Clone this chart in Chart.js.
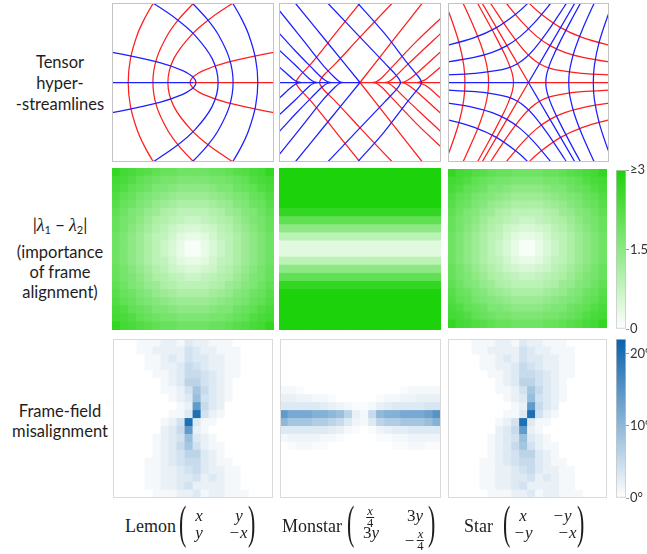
<!DOCTYPE html>
<html>
<head>
<meta charset="utf-8">
<script src="https://cdn.jsdelivr.net/npm/chart.js"></script>
<style>
  html, body { margin: 0; background: #fff; }
  #fig { position: relative; width: 647px; height: 554px; overflow: hidden; color: #1e1e1e; }
  #fig canvas { position: absolute; }
  .framed { outline: 1.5px solid #c3c3c3; outline-offset: -1.5px; }
  .framed.light { outline-color: #dadada; }
  .lab { position: absolute; left: 0; width: 120px; text-align: center; font: 16.5px Lato, sans-serif; line-height: 20px; white-space: nowrap; }
  .lab i { font-family: 'Liberation Serif', serif; font-size: 18px; }
  .lab sub { font-size: 11px; vertical-align: -3px; line-height: 0; }
  .name { position: absolute; font: 18px 'Liberation Serif', serif; line-height: 18px; white-space: nowrap; }
  .paren { position: absolute; font: 22px 'Liberation Serif', serif; line-height: 22px; transform: scaleY(2.1); }
  .ent { position: absolute; font: italic 17px 'Liberation Serif', serif; line-height: 17px; transform: translateX(-50%); white-space: nowrap; }
  .ent .up { font-style: normal; }
  .ent.fr { display: flex; align-items: center; }
  .frac { display: inline-flex; flex-direction: column; align-items: center; font-size: 12.5px; line-height: 9px; }
  .frac span:first-child { border-bottom: 1px solid #1e1e1e; padding: 0 1px 1px; }
  .frac span:last-child { font-style: normal; padding-top: 1px; }
</style>
</head>
<body>
<div id="fig">
  <div class="lab" style="top:51.6px">Tensor</div>
  <div class="lab" style="top:72.6px">hyper-</div>
  <div class="lab" style="top:93.6px">-streamlines</div>

  <div class="lab" style="top:214.6px">|<i>λ</i><sub>1</sub> − <i>λ</i><sub>2</sub>|</div>
  <div class="lab" style="top:241.6px">(importance</div>
  <div class="lab" style="top:261.6px">of frame</div>
  <div class="lab" style="top:281.6px">alignment)</div>

  <div class="lab" style="top:400.6px">Frame-field</div>
  <div class="lab" style="top:420.6px">misalignment</div>

  <canvas id="lemonLines" class="framed" width="162" height="159" style="left:112px;top:3px"></canvas>
  <canvas id="monstarLines" class="framed" width="162" height="159" style="left:279px;top:3px"></canvas>
  <canvas id="starLines" class="framed" width="161" height="159" style="left:448px;top:3px"></canvas>

  <canvas id="lemonGapMap" width="162" height="162" style="left:112px;top:168px"></canvas>
  <canvas id="monstarGapMap" width="162" height="162" style="left:279px;top:168px"></canvas>
  <canvas id="starGapMap" width="159" height="159" style="left:448px;top:169px"></canvas>
  <canvas id="gapBar" width="40" height="179" style="left:616px;top:160px"></canvas>

  <canvas id="lemonMisMap" class="framed light" width="160" height="159" style="left:113px;top:339px"></canvas>
  <canvas id="monstarMisMap" class="framed light" width="161" height="159" style="left:280px;top:339px"></canvas>
  <canvas id="starMisMap" class="framed light" width="159" height="159" style="left:448px;top:339px"></canvas>
  <canvas id="misBar" width="40" height="179" style="left:616px;top:329px"></canvas>

  <div class="name" style="left:125px;top:516.6px">Lemon</div>
  <div class="paren" style="left:179px;top:511.8px">(</div>
  <div class="ent" style="left:199px;top:506.8px">x</div>
  <div class="ent" style="left:239px;top:506.8px">y</div>
  <div class="ent" style="left:199px;top:524.3px">y</div>
  <div class="ent" style="left:238px;top:524.3px">−x</div>
  <div class="paren" style="left:248px;top:511.8px">)</div>

  <div class="name" style="left:282px;top:516.6px">Monstar</div>
  <div class="paren" style="left:347px;top:511.8px">(</div>
  <div class="ent fr" style="left:370px;top:507px"><span class="frac"><span>x</span><span>4</span></span></div>
  <div class="ent" style="left:415px;top:506.8px"><span class="up">3</span>y</div>
  <div class="ent" style="left:371px;top:524.3px"><span class="up">3</span>y</div>
  <div class="ent fr" style="left:414px;top:529.5px">−&#8202;<span class="frac"><span>x</span><span>4</span></span></div>
  <div class="paren" style="left:428px;top:511.8px">)</div>

  <div class="name" style="left:464px;top:516.6px">Star</div>
  <div class="paren" style="left:503px;top:511.8px">(</div>
  <div class="ent" style="left:523px;top:506.8px">x</div>
  <div class="ent" style="left:562px;top:506.8px">−y</div>
  <div class="ent" style="left:523px;top:524.3px">−y</div>
  <div class="ent" style="left:567px;top:524.3px">−x</div>
  <div class="paren" style="left:577px;top:511.8px">)</div>
</div>

<script>
// ---- hyper-streamlines, panel units (-1..1), read off the top row ----
// "arcs" cross the horizontal axis (lower half is the mirror image, joined),
// "legs" end on the axis or never reach it (mirrored as a separate line)
const lemonRedArcs = [
  [[-0.8, 0], [-0.772, 0.3], [-0.688, 0.6], [-0.6, 0.8], [-0.488, 1], [-0.42, 1.1]],
  [[-0.495, 0], [-0.449, 0.3], [-0.313, 0.6], [-0.172, 0.8], [0.01, 1], [0.116, 1.1]],
  [[-0.31, 0], [-0.237, 0.3], [-0.019, 0.6], [0.206, 0.8], [0.497, 1], [0.666, 1.1]],
  [[-0.035, 0], [-0.029, 0.03], [0.011, 0.08], [0.126, 0.15], [0.411, 0.25], [0.996, 0.38], [1.225, 0.42]]
];
const lemonBlueArcs = [
  [[0.8, 0], [0.772, 0.3], [0.688, 0.6], [0.6, 0.8], [0.488, 1], [0.42, 1.1]],
  [[0.495, 0], [0.449, 0.3], [0.313, 0.6], [0.172, 0.8], [-0.01, 1], [-0.116, 1.1]],
  [[0.31, 0], [0.237, 0.3], [0.019, 0.6], [-0.206, 0.8], [-0.497, 1], [-0.666, 1.1]],
  [[0.035, 0], [0.029, 0.03], [-0.011, 0.08], [-0.126, 0.15], [-0.411, 0.25], [-0.996, 0.38], [-1.225, 0.42]]
];
const lemonRedAxis = [[0, 0], [1.05, 0]];
const lemonBlueAxis = [[-1.05, 0], [0, 0]];

const monstarRedArcs = [
  [[-0.79, 0], [-0.775, 0.04], [-0.73, 0.1], [-0.6, 0.24], [-0.3, 0.62], [0, 1], [0.08, 1.1]],
  [[-0.5, 0], [-0.485, 0.04], [-0.44, 0.1], [-0.3, 0.24], [0, 0.57], [0.4, 1], [0.5, 1.1]]
];
const monstarRedLegs = [
  [[0, 0], [0.4, 0.52], [0.77, 1], [0.85, 1.1]],
  [[0.15, 0], [0.2, 0.01], [0.27, 0.06], [0.4, 0.2], [0.7, 0.52], [1, 0.81], [1.1, 0.9]],
  [[0.3, 0], [0.35, 0.01], [0.42, 0.06], [0.55, 0.19], [0.8, 0.43], [1, 0.62], [1.1, 0.72]],
  [[0.5, 0], [0.55, 0.01], [0.62, 0.05], [0.75, 0.16], [1, 0.39], [1.1, 0.48]],
  [[0.7, 0], [0.75, 0.01], [0.82, 0.045], [1, 0.2], [1.1, 0.29]]
];
const monstarBlueArcs = [
  [[0.5, 0], [0.485, 0.04], [0.44, 0.1], [0.3, 0.25], [0, 0.57], [-0.4, 1], [-0.5, 1.1]],
  [[0.76, 0], [0.745, 0.04], [0.7, 0.1], [0.58, 0.25], [0.3, 0.62], [-0.03, 1], [-0.12, 1.1]]
];
const monstarBlueLegs = [
  [[0, 0], [-0.4, 0.5], [-0.8, 1], [-0.88, 1.1]],
  [[-0.21, 0], [-0.25, 0.01], [-0.31, 0.06], [-0.45, 0.21], [-0.7, 0.53], [-1, 0.91], [-1.08, 1]],
  [[-0.35, 0], [-0.4, 0.01], [-0.46, 0.05], [-0.6, 0.19], [-0.8, 0.4], [-1, 0.62], [-1.1, 0.72]],
  [[-0.52, 0], [-0.57, 0.01], [-0.63, 0.05], [-0.8, 0.22], [-1, 0.41], [-1.1, 0.5]],
  [[-0.72, 0], [-0.77, 0.01], [-0.83, 0.045], [-1, 0.2], [-1.1, 0.29]]
];
const monstarRedAxis = [[0, 0], [1.05, 0]];
const monstarBlueAxis = [[-1.05, 0], [0, 0]];

const starRedArcs = [
  [[-0.186, 0], [-0.203, 0.117], [-0.25, 0.25], [-0.294, 0.351], [-0.415, 0.593], [-0.506, 0.764], [-0.705, 1.13]],
  [[-0.496, 0], [-0.505, 0.135], [-0.541, 0.312], [-0.603, 0.506], [-0.665, 0.665], [-0.785, 0.936], [-0.87, 1.113]],
  [[-0.79, 0], [-0.804, 0.215], [-0.862, 0.497], [-0.961, 0.806], [-1.06, 1.06]]
];
const starRedLegs = [
  [[1.19, 0.433], [1.006, 0.469], [0.673, 0.564], [0.399, 0.69], [0.152, 0.865], [0, 1.005], [-0.22, 1.247]],
  [[1.299, 0.229], [0.981, 0.263], [0.676, 0.315], [0.451, 0.379], [0.268, 0.464], [0.102, 0.58], [-0.065, 0.743], [-0.263, 0.981], [-0.362, 1.115]],
  [[1.3, 0.08], [1.054, 0.092], [0.66, 0.116], [0.406, 0.148], [0.26, 0.182], [0.136, 0.236], [0.028, 0.317], [-0.075, 0.425], [-0.229, 0.63], [-0.447, 0.959], [-0.538, 1.103]],
  [[0, 0], [-0.6, 1.04]]
];
const starBlueArcs = [
  [[0.215, 0], [0.222, 0.081], [0.245, 0.172], [0.288, 0.288], [0.377, 0.483], [0.541, 0.803], [0.711, 1.117]],
  [[0.5, 0], [0.504, 0.089], [0.517, 0.188], [0.57, 0.399], [0.671, 0.671], [0.791, 0.943], [0.853, 1.072]],
  [[0.805, 0], [0.819, 0.219], [0.878, 0.507], [0.979, 0.821], [1.08, 1.08]]
];
const starBlueLegs = [
  [[-1.19, 0.433], [-1.006, 0.469], [-0.673, 0.564], [-0.399, 0.69], [-0.152, 0.865], [0, 1.005], [0.22, 1.247]],
  [[-1.299, 0.229], [-0.981, 0.263], [-0.676, 0.315], [-0.451, 0.379], [-0.268, 0.464], [-0.102, 0.58], [0.065, 0.743], [0.263, 0.981], [0.362, 1.115]],
  [[-1.3, 0.08], [-1.054, 0.092], [-0.66, 0.116], [-0.406, 0.148], [-0.26, 0.182], [-0.136, 0.236], [-0.028, 0.317], [0.075, 0.425], [0.229, 0.63], [0.447, 0.959], [0.538, 1.103]],
  [[0, 0], [0.6, 1.04]]
];
const starRedAxis = [[0, 0], [1.05, 0]];
const starBlueAxis = [[-1.05, 0], [0, 0]];

// ---- |lambda1 - lambda2| on a 20x20 grid, top row first ----
const lemonGap = [
  [2.7,2.5,2.4,2.3,2.2,2.1,2.0,2.0,1.9,1.9,1.9,1.9,2.0,2.0,2.1,2.2,2.3,2.4,2.5,2.7],
  [2.5,2.4,2.3,2.1,2.0,1.9,1.8,1.8,1.7,1.7,1.7,1.7,1.8,1.8,1.9,2.0,2.1,2.3,2.4,2.5],
  [2.4,2.3,2.1,2.0,1.9,1.7,1.7,1.6,1.5,1.5,1.5,1.5,1.6,1.7,1.7,1.9,2.0,2.1,2.3,2.4],
  [2.3,2.1,2.0,1.8,1.7,1.6,1.5,1.4,1.3,1.3,1.3,1.3,1.4,1.5,1.6,1.7,1.8,2.0,2.1,2.3],
  [2.2,2.0,1.9,1.7,1.6,1.4,1.3,1.2,1.1,1.1,1.1,1.1,1.2,1.3,1.4,1.6,1.7,1.9,2.0,2.2],
  [2.1,1.9,1.7,1.6,1.4,1.3,1.1,1.0,0.9,0.9,0.9,0.9,1.0,1.1,1.3,1.4,1.6,1.7,1.9,2.1],
  [2.0,1.8,1.7,1.5,1.3,1.1,1.0,0.9,0.8,0.7,0.7,0.8,0.9,1.0,1.1,1.3,1.5,1.7,1.8,2.0],
  [2.0,1.8,1.6,1.4,1.2,1.0,0.9,0.7,0.6,0.5,0.5,0.6,0.7,0.9,1.0,1.2,1.4,1.6,1.8,2.0],
  [1.9,1.7,1.5,1.3,1.1,0.9,0.8,0.6,0.4,0.3,0.3,0.4,0.6,0.8,0.9,1.1,1.3,1.5,1.7,1.9],
  [1.9,1.7,1.5,1.3,1.1,0.9,0.7,0.5,0.3,0.1,0.1,0.3,0.5,0.7,0.9,1.1,1.3,1.5,1.7,1.9],
  [1.9,1.7,1.5,1.3,1.1,0.9,0.7,0.5,0.3,0.1,0.1,0.3,0.5,0.7,0.9,1.1,1.3,1.5,1.7,1.9],
  [1.9,1.7,1.5,1.3,1.1,0.9,0.8,0.6,0.4,0.3,0.3,0.4,0.6,0.8,0.9,1.1,1.3,1.5,1.7,1.9],
  [2.0,1.8,1.6,1.4,1.2,1.0,0.9,0.7,0.6,0.5,0.5,0.6,0.7,0.9,1.0,1.2,1.4,1.6,1.8,2.0],
  [2.0,1.8,1.7,1.5,1.3,1.1,1.0,0.9,0.8,0.7,0.7,0.8,0.9,1.0,1.1,1.3,1.5,1.7,1.8,2.0],
  [2.1,1.9,1.7,1.6,1.4,1.3,1.1,1.0,0.9,0.9,0.9,0.9,1.0,1.1,1.3,1.4,1.6,1.7,1.9,2.1],
  [2.2,2.0,1.9,1.7,1.6,1.4,1.3,1.2,1.1,1.1,1.1,1.1,1.2,1.3,1.4,1.6,1.7,1.9,2.0,2.2],
  [2.3,2.1,2.0,1.8,1.7,1.6,1.5,1.4,1.3,1.3,1.3,1.3,1.4,1.5,1.6,1.7,1.8,2.0,2.1,2.3],
  [2.4,2.3,2.1,2.0,1.9,1.7,1.7,1.6,1.5,1.5,1.5,1.5,1.6,1.7,1.7,1.9,2.0,2.1,2.3,2.4],
  [2.5,2.4,2.3,2.1,2.0,1.9,1.8,1.8,1.7,1.7,1.7,1.7,1.8,1.8,1.9,2.0,2.1,2.3,2.4,2.5],
  [2.7,2.5,2.4,2.3,2.2,2.1,2.0,2.0,1.9,1.9,1.9,1.9,2.0,2.0,2.1,2.2,2.3,2.4,2.5,2.7]
];
const starGap = lemonGap; // the star map reads the same as the lemon one
// monstar varies by row only
const monstarGapRows = [3, 3, 3, 3, 3, 2.7, 2.1, 1.5, 0.9, 0.4, 0.4, 0.9, 1.5, 2.1, 2.7, 3, 3, 3, 3, 3];
const gapTicks = [0, 1.5, 3];
const gapTickLabels = ['0', '1.5', '≥3'];
const gapMax = 3;

// ---- frame-field misalignment in degrees, 20x20, top row first ----
const lemonMisalign = [
  [0,0,0,1,1,1,2,2,1,3,2,2,1,1,1,0,0,0,0,0],
  [0,0,0,1,1,2,2,2,2,4,3,2,2,1,1,1,0,0,0,0],
  [0,0,0,0,1,1,2,3,2,4,3,3,2,2,1,1,0,0,0,0],
  [0,0,0,0,1,1,2,2,3,5,4,3,2,2,1,1,0,0,0,0],
  [0,0,0,0,0,1,1,2,3,5,5,4,3,2,1,1,0,0,0,0],
  [0,0,0,0,0,0,1,2,3,6,6,4,3,2,1,0,0,0,0,0],
  [0,0,0,0,0,0,1,1,2,4,8,5,3,2,1,0,0,0,0,0],
  [0,0,0,0,0,0,0,1,2,3,9,4,3,2,1,0,0,0,0,0],
  [0,0,0,0,0,0,0,0,1,2,14,5,3,2,0,0,0,0,0,0],
  [0,0,0,0,0,0,0,1,1,3,20,4,2,1,0,0,0,0,0,0],
  [0,0,0,0,0,0,1,2,4,20,3,1,1,0,0,0,0,0,0,0],
  [0,0,0,0,0,0,2,3,5,14,2,1,0,0,0,0,0,0,0,0],
  [0,0,0,0,0,1,2,3,4,9,3,2,1,0,0,0,0,0,0,0],
  [0,0,0,0,0,1,2,3,5,8,4,2,1,1,0,0,0,0,0,0],
  [0,0,0,0,0,1,2,3,4,6,6,3,2,1,0,0,0,0,0,0],
  [0,0,0,0,1,1,2,3,4,5,5,3,2,1,1,0,0,0,0,0],
  [0,0,0,0,1,1,2,2,3,4,5,3,2,2,1,1,0,0,0,0],
  [0,0,0,0,1,1,2,2,3,3,4,2,3,2,1,1,0,0,0,0],
  [0,0,0,0,1,1,2,2,3,4,2,2,2,2,1,1,0,0,0,0],
  [0,0,0,0,0,1,1,1,2,2,3,1,2,2,1,1,1,0,0,0]
];
const starMisalign = lemonMisalign; // same pattern in the picture
const monstarMisalign = [
  [0,0,0,0,0,0,0,0,0,0,0,0,0,0,0,0,0,0,0,0],
  [0,0,0,0,0,0,0,0,0,0,0,0,0,0,0,0,0,0,0,0],
  [0,0,0,0,0,0,0,0,0,0,0,0,0,0,0,0,0,0,0,0],
  [0,0,0,0,0,0,0,0,0,0,0,0,0,0,0,0,0,0,0,0],
  [0,0,0,0,0,0,0,0,0,0,0,0,0,0,0,0,0,0,0,0],
  [0,0,0,0,0,0,0,0,0,0,0,0,0,0,0,0,0,0,0,0],
  [1,1,0.5,0,0,0,0,0,0,0,0,0,0,0,0,0.5,1,1,1,1],
  [2,2,1.5,1.5,1,1,0.5,0,0,0,0,0,0.5,1,1,1.5,1.5,2,2,2],
  [3,3,3,3,3,2.5,2,1.5,1,0.5,0.5,1,2,2.5,3,3,3,3,3.5,3.5],
  [14,12,12,12,11,11,10,9,6,2,1,5,10,11,11,12,12,12,13,15],
  [10,8,8,8,7,7,6,5,3,1.5,1,3,6,7,7,8,8,8,9,11],
  [3,3,3,3,3,3,2.5,2,1,0.5,0,0.5,1.5,2,2.5,2.5,3,3,3,3],
  [1,1.5,1.5,1.5,1.5,1,1,0.5,0,0,0,0,0.5,0.5,1,1,1.5,1.5,1.5,1.5],
  [0,0.5,1,1,0.5,0.5,0,0,0,0,0,0,0,0,0.5,0.5,1,1,0.5,0.5],
  [0,0,0,0,0,0,0,0,0,0,0,0,0,0,0,0,0,0,0,0],
  [0,0,0,0,0,0,0,0,0,0,0,0,0,0,0,0,0,0,0,0],
  [0,0,0,0,0,0,0,0,0,0,0,0,0,0,0,0,0,0,0,0],
  [0,0,0,0,0,0,0,0,0,0,0,0,0,0,0,0,0,0,0,0],
  [0,0,0,0,0,0,0,0,0,0,0,0,0,0,0,0,0,0,0,0],
  [0,0,0,0,0,0,0,0,0,0,0,0,0,0,0,0,0,0,0,0]
];
const misTicks = [0, 10, 20];
const misTickLabels = ['0°', '10°', '20°'];
const misMax = 22;

const RED = 'rgb(255,30,30)';
const BLUE = 'rgb(30,30,255)';
const GREEN = [28, 210, 10];
const DEEP_BLUE = [8, 98, 172];

function toPts(c) { return c.map(p => ({ x: p[0], y: p[1] })); }
function flip(c) { return c.map(p => ({ x: p[0], y: -p[1] })); }
// curve crossing the axis: mirrored lower half + upper half as one line
function through(c) { return flip(c).reverse().concat(toPts(c).slice(1)); }

function lineSet(data, color) {
  return { data, borderColor: color, borderWidth: 1.25, showLine: true, pointRadius: 0, tension: 0.35, fill: false };
}

function baseOptions(min, max, reverse) {
  return {
    responsive: false,
    animation: false,
    events: [],
    layout: { padding: 0, autoPadding: false },
    plugins: { legend: { display: false }, tooltip: { enabled: false } },
    scales: {
      x: { type: 'linear', min, max, display: false },
      y: { type: 'linear', min, max, display: false, reverse }
    }
  };
}

function streamChart(id, groups) {
  const sets = [];
  groups.forEach(([arcs, legs, axis, color]) => {
    arcs.forEach(c => sets.push(lineSet(through(c), color)));
    legs.forEach(c => {
      sets.push(lineSet(toPts(c), color));
      sets.push(lineSet(flip(c), color));
    });
    sets.push(lineSet(toPts(axis), color));
  });
  new Chart(document.getElementById(id), {
    type: 'scatter',
    data: { datasets: sets },
    options: baseOptions(-1, 1, false)
  });
}

function shade(t, rgb) {
  t = Math.max(0, Math.min(1, t));
  const c = rgb.map(v => Math.round(255 + (v - 255) * t));
  return `rgb(${c[0]},${c[1]},${c[2]})`;
}

function heatChart(id, grid, vmax, rgb) {
  const n = grid.length;
  const cells = [];
  grid.forEach((row, r) => row.forEach((v, c) => cells.push({ x: c + 0.5, y: r + 0.5, v })));
  new Chart(document.getElementById(id), {
    type: 'scatter',
    data: {
      datasets: [{
        data: cells,
        pointStyle: 'rect',
        borderWidth: 0,
        pointRadius: ctx => (ctx.chart.width / n + 0.8) / Math.SQRT2,
        backgroundColor: ctx => ctx.raw ? shade(ctx.raw.v / vmax, rgb) : '#fff'
      }]
    },
    options: baseOptions(0, n, true)
  });
}

function colorBar(id, vmax, rgb, ticks, labels) {
  const el = document.getElementById(id);
  new Chart(el, {
    type: 'bar',
    data: {
      labels: [''],
      datasets: [{
        data: [[0, vmax]],
        barPercentage: 1,
        categoryPercentage: 1,
        borderWidth: 1,
        borderColor: '#c4c4c4',
        borderSkipped: false,
        backgroundColor: ctx => {
          const a = ctx.chart.chartArea;
          if (!a) return '#fff';
          const g = ctx.chart.ctx.createLinearGradient(0, a.bottom, 0, a.top);
          g.addColorStop(0, '#ffffff');
          g.addColorStop(1, `rgb(${rgb.join(',')})`);
          return g;
        }
      }]
    },
    options: {
      responsive: false,
      animation: false,
      events: [],
      layout: { padding: { top: 10, bottom: 10 } },
      plugins: { legend: { display: false }, tooltip: { enabled: false } },
      scales: {
        x: { display: false },
        y: {
          position: 'right',
          min: 0,
          max: vmax,
          afterBuildTicks: s => { s.ticks = ticks.map(value => ({ value })); },
          afterFit: s => { s.width = el.width - 10; },
          ticks: {
            autoSkip: false,
            callback: (v, i) => labels[i],
            color: '#333',
            font: { family: 'Lato', size: 13 },
            padding: 1
          },
          grid: { drawOnChartArea: false, tickLength: 3, color: '#9a9a9a' },
          border: { display: false }
        }
      }
    }
  });
}

streamChart('lemonLines', [
  [lemonBlueArcs, [], lemonBlueAxis, BLUE],
  [lemonRedArcs, [], lemonRedAxis, RED]
]);
streamChart('monstarLines', [
  [monstarBlueArcs, monstarBlueLegs, monstarBlueAxis, BLUE],
  [monstarRedArcs, monstarRedLegs, monstarRedAxis, RED]
]);
streamChart('starLines', [
  [starBlueArcs, starBlueLegs, starBlueAxis, BLUE],
  [starRedArcs, starRedLegs, starRedAxis, RED]
]);

heatChart('lemonGapMap', lemonGap, gapMax, GREEN);
heatChart('monstarGapMap', monstarGapRows.map(v => new Array(20).fill(v)), gapMax, GREEN);
heatChart('starGapMap', starGap, gapMax, GREEN);
colorBar('gapBar', gapMax, GREEN, gapTicks, gapTickLabels);

heatChart('lemonMisMap', lemonMisalign, misMax, DEEP_BLUE);
heatChart('monstarMisMap', monstarMisalign, misMax, DEEP_BLUE);
heatChart('starMisMap', starMisalign, misMax, DEEP_BLUE);
colorBar('misBar', misMax, DEEP_BLUE, misTicks, misTickLabels);
</script>
</body>
</html>
